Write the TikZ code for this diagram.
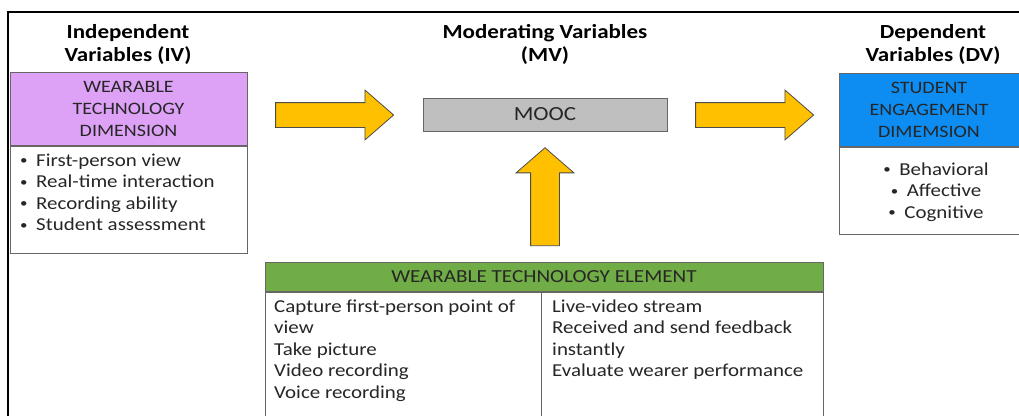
\documentclass[tikz,border=0pt]{standalone}
\usepackage{fontspec}
\setmainfont{Carlito}[FakeStretch=1.15]
\usetikzlibrary{positioning,shapes.arrows}

\definecolor{ivpurple}{HTML}{DDA2F6}
\definecolor{dvblue}{HTML}{0D8CF2}
\definecolor{wtgreen}{HTML}{70AD47}
\definecolor{moocgray}{HTML}{BFBFBF}
\definecolor{arrowgold}{HTML}{FFC000}
\definecolor{bodytext}{HTML}{262626}

\newcommand{\bul}{\makebox[16pt][l]{\raisebox{1.5pt}{\fontsize{13}{13}\selectfont\textbullet}}}
% fixes the height of a first line, so the top of a list sits a set way above its baseline
\newcommand{\topline}{\rule{0pt}{14pt}}

\tikzset{
  heading/.style={font=\fontsize{20}{23}\selectfont\bfseries, align=center, inner sep=0pt},
  boxline/.style={draw=black!60, line width=1pt},
  headbox/.style={boxline, inner sep=0pt, align=center, text=bodytext,
    font=\fontsize{17.4}{22}\selectfont},
  listtext/.style={inner sep=0pt, align=left, text=bodytext,
    font=\fontsize{18.2}{21.5}\selectfont},
  bigarrow/.style={single arrow, draw=black!70, fill=arrowgold, line width=0.8pt,
    inner xsep=0pt, single arrow head indent=0pt}
}

\begin{document}
\begin{tikzpicture}[x=1pt, y=-1pt]
\clip (0,0) rectangle (1019,415);
\fill[white] (0,0) rectangle (1019,415);

% frame
\draw[line width=2pt] (8,440) -- (8,12) -- (1040,12);

% column headings
\node[heading, anchor=north] (ivtitle) at (128,22) {\rule{0pt}{16pt}Independent\\Variables (IV)};
\node[heading, anchor=north] (mvtitle) at (545,22) {\rule{0pt}{16pt}Moderating Variables\\(MV)};
\node[heading, anchor=north] (dvtitle) at (933,22) {\rule{0pt}{16pt}Dependent\\Variables (DV)};

% independent variables
\node[headbox, fill=ivpurple, minimum width=237pt, minimum height=73pt] (ivhead) at (128.5,108.5)
  {WEARABLE\\TECHNOLOGY\\DIMENSION};
\node[headbox, minimum width=237pt, minimum height=107pt, below=0pt of ivhead] (ivbody) {};
\node[listtext, anchor=north west] (ivlist) at (20,152)
  {\topline\bul First-person view\\\bul Real-time interaction\\\bul Recording ability\\\bul Student assessment};

% moderating variable
\node[headbox, fill=moocgray, minimum width=244pt, minimum height=33pt,
  font=\fontsize{20}{22}\selectfont] (mooc) at (545,114.5) {MOOC};

% dependent variables
\node[headbox, fill=dvblue, minimum width=180pt, minimum height=73pt] (dvhead) at (929,109.5)
  {STUDENT\\ENGAGEMENT\\DIMEMSION};
\node[headbox, minimum width=180pt, minimum height=87pt, below=0pt of dvhead] (dvbody) {};
\node[listtext, align=center, anchor=north] (dvlist) at (936,161)
  {\topline\bul Behavioral\\\bul Affective\\\bul Cognitive};

% wearable technology element
\node[headbox, fill=wtgreen, minimum width=558pt, minimum height=29pt,
  font=\fontsize{18.4}{22}\selectfont] (wtehead) at (544,276.5)
  {WEARABLE TECHNOLOGY ELEMENT};
\node[headbox, minimum width=558pt, minimum height=150pt, below=0pt of wtehead] (wtebody) {};
\draw[boxline] (wtebody.north -| 541,0) -- (wtebody.south -| 541,0);
\node[listtext, anchor=north west] (wteleft) at (274,298)
  {\topline Capture first-person point of\\view\\Take picture\\Video recording\\Voice recording};
\node[listtext, anchor=north west] (wteright) at (552,298)
  {\topline Live-video stream\\Received and send feedback\\instantly\\Evaluate wearer performance};

% block arrows
\node[bigarrow, inner ysep=12pt, minimum height=118pt, single arrow head extend=12.5pt,
  single arrow tip angle=82] (ivarrow) at (327.5,115) {};
\node[bigarrow, inner ysep=12pt, minimum height=118pt, single arrow head extend=12.5pt,
  single arrow tip angle=82] (dvarrow) at (747.5,115) {};
\node[bigarrow, inner ysep=14pt, minimum height=98pt, single arrow head extend=14.5pt,
  single arrow tip angle=98, rotate=90] (wtearrow) at (545,203) {};
\end{tikzpicture}
\end{document}
